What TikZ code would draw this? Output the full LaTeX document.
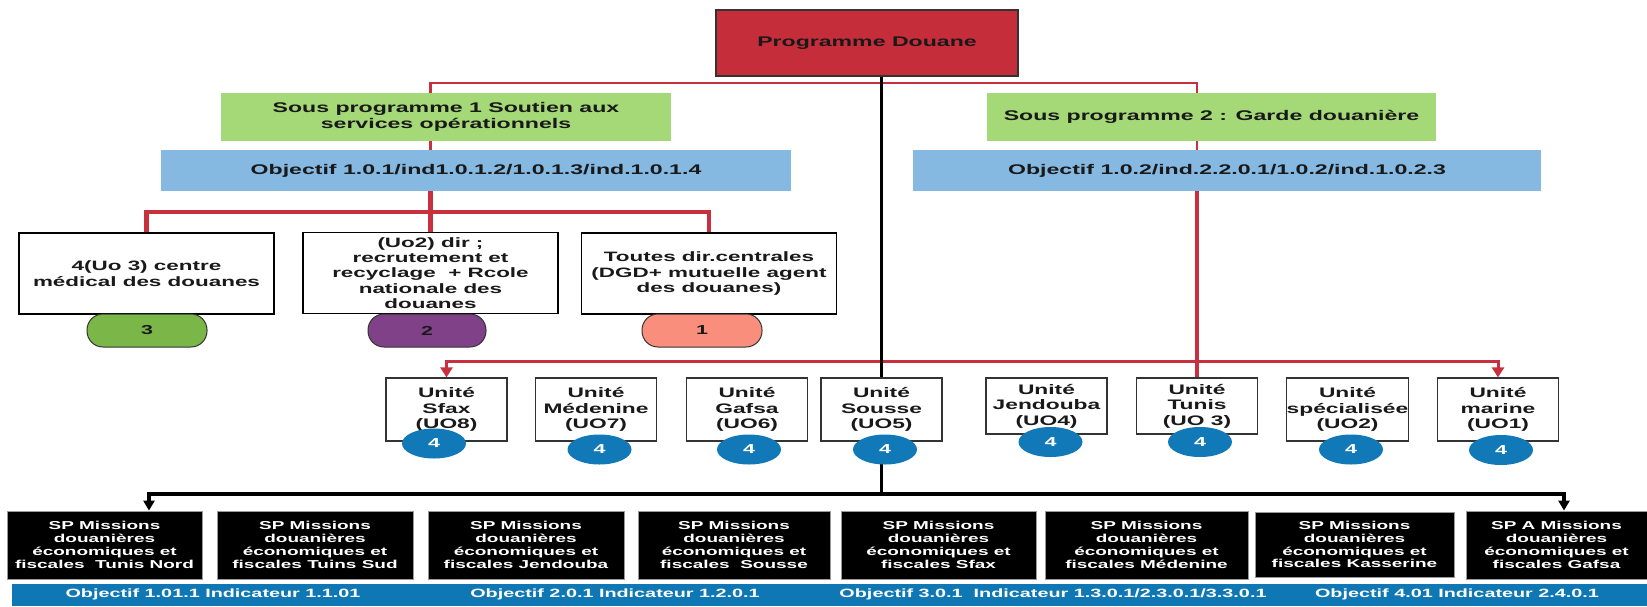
\documentclass[tikz,border=0pt]{standalone}
\usepackage{fontspec}
\setmainfont{Liberation Sans}[FakeStretch=1.65]
\usetikzlibrary{positioning, shapes.geometric, arrows.meta, backgrounds}

\definecolor{progred}{HTML}{C62D3A}
\definecolor{linered}{HTML}{C9303E}
\definecolor{spgreen}{HTML}{A5D977}
\definecolor{objblue}{HTML}{85B9E2}
\definecolor{ovgreen}{HTML}{7AB648}
\definecolor{ovpurple}{HTML}{814189}
\definecolor{ovsalmon}{HTML}{FA8E7C}
\definecolor{uoblue}{HTML}{1279B8}
\definecolor{barblue}{HTML}{0F78B4}

\begin{document}
\begin{tikzpicture}[x=1pt, y=-1pt,
        every node/.style = {align=center, inner sep=0pt, text=black!90},
        prog/.style = {shape=rectangle, draw=black!80, line width=1.5pt, fill=progred,
            minimum width=302pt, minimum height=66pt, font=\bfseries\fontsize{14}{15.3}\selectfont},
        spbox/.style = {shape=rectangle, fill=spgreen, minimum height=48pt,
            font=\bfseries\fontsize{14}{15.3}\selectfont},
        objbox/.style = {shape=rectangle, fill=objblue, minimum height=41pt,
            font=\bfseries\fontsize{14}{15.3}\selectfont},
        dirbox/.style = {shape=rectangle, draw=black, line width=1.5pt, fill=white,
            minimum width=255pt, minimum height=81pt, font=\bfseries\fontsize{13.6}{15.3}\selectfont},
        oval/.style = {shape=rectangle, rounded corners=16pt, draw=black!80, line width=1pt,
            minimum width=120pt, minimum height=33pt, font=\bfseries\fontsize{13}{15}\selectfont},
        uobox/.style = {shape=rectangle, draw=black!80, line width=1.2pt, fill=white,
            minimum width=121pt, minimum height=63pt, font=\bfseries\fontsize{13.8}{15.5}\selectfont},
        uocircle/.style = {shape=ellipse, fill=uoblue, minimum width=64pt, minimum height=30pt,
            text=white, font=\bfseries\fontsize{13}{15}\selectfont},
        mission/.style = {shape=rectangle, draw=black!40, line width=0.8pt, fill=black, text=white,
            minimum height=68pt, font=\bfseries\fontsize{11.5}{12.8}\selectfont},
        bartext/.style = {text=white, font=\bfseries\fontsize{12}{14}\selectfont},
        redthin/.style = {draw=linered, line width=2.6pt},
        redthick/.style = {draw=linered, line width=4.5pt},
        redmid/.style = {draw=linered, line width=3pt},
        blackline/.style = {draw=black, line width=3.5pt}
    ]
    \useasboundingbox (0, 0) rectangle (1647, 606);

    % programme and sub-programmes
    \node [prog] (prog) at (867, 43) {Programme Douane};
    \node [spbox, minimum width=450pt] (sp1) at (446, 117) {Sous programme 1 Soutien aux\\services opérationnels};
    \node [objbox, minimum width=630pt] (obj1) at (476, 170.5) {Objectif 1.0.1/ind1.0.1.2/1.0.1.3/ind.1.0.1.4};
    \node [spbox, minimum width=449pt] (sp2) at (1211.5, 117) {Sous programme 2 : Garde douanière};
    \node [objbox, minimum width=628pt] (obj2) at (1227, 170.5) {Objectif 1.0.2/ind.2.2.0.1/1.0.2/ind.1.0.2.3};

    % directions of sub-programme 1
    \node [dirbox] (d1) at (146.5, 273.5) {4(Uo 3) centre\\médical des douanes};
    \node [dirbox] (d2) at (430.5, 273) {(Uo2) dir ;\\recrutement et\\recyclage~ + Rcole\\nationale des\\douanes};
    \node [dirbox] (d3) at (709, 273.5) {Toutes dir.centrales\\(DGD+ mutuelle agent\\des douanes)};
    \node [oval, fill=ovgreen] (o3) at (147, 330.5) {3};
    \node [oval, fill=ovpurple, minimum width=118pt] (o2) at (427, 330.5) {2};
    \node [oval, fill=ovsalmon] (o1) at (702, 330.5) {1};

    % units of sub-programme 2
    \node [uobox] (sfax) at (446.5, 409.5) {Unité\\Sfax\\(UO8)};
    \node [uobox] (medenine) at (596, 409.5) {Unité\\Médenine\\(UO7)};
    \node [uobox] (gafsa) at (747, 409.5) {Unité\\Gafsa\\(UO6)};
    \node [uobox] (sousse) at (881.5, 409.5) {Unité\\Sousse\\(UO5)};
    \node [uobox, minimum height=56pt] (jendouba) at (1046.5, 406) {Unité\\Jendouba\\(UO4)};
    \node [uobox, minimum height=56pt] (tunis) at (1197, 406) {Unité\\Tunis\\(UO 3)};
    \node [uobox] (specialisee) at (1347.5, 409.5) {Unité\\spécialisée\\(UO2)};
    \node [uobox] (marine) at (1498, 409.5) {Unité\\marine\\(UO1)};

    \node [uocircle] (sfax4) at (434, 443.5) {4};
    \node [uocircle] (medenine4) at (599.5, 449.5) {4};
    \node [uocircle] (gafsa4) at (749, 449.5) {4};
    \node [uocircle] (sousse4) at (885, 449.5) {4};
    \node [uocircle] (jendouba4) at (1050.5, 442) {4};
    \node [uocircle] (tunis4) at (1200, 442) {4};
    \node [uocircle] (specialisee4) at (1351, 449.5) {4};
    \node [uocircle] (marine4) at (1501, 450) {4};

    % SP missions
    \node [mission, minimum width=195pt] (tunisnord) at (104.5, 545) {SP Missions\\douanières\\économiques et\\fiscales~ Tunis Nord};
    \node [mission, minimum width=196pt] (tunissud) at (315, 545) {SP Missions\\douanières\\économiques et\\fiscales Tuins Sud};
    \node [mission, minimum width=196pt] (spjendouba) at (526, 545) {SP Missions\\douanières\\économiques et\\fiscales Jendouba};
    \node [mission, minimum width=192pt] (spsousse) at (734, 545) {SP Missions\\douanières\\économiques et\\fiscales~ Sousse};
    \node [mission, minimum width=195pt] (spsfax) at (938.5, 545) {SP Missions\\douanières\\économiques et\\fiscales Sfax};
    \node [mission, minimum width=203pt] (spmedenine) at (1146.5, 545) {SP Missions\\douanières\\économiques et\\fiscales Médenine};
    \node [mission, minimum width=199pt, minimum height=65pt] (spkasserine) at (1354.5, 544.5) {SP Missions\\douanières\\économiques et\\fiscales Kasserine};
    \node [mission, minimum width=181pt] (spgafsa) at (1556.5, 545) {SP A Missions\\douanières\\économiques et\\fiscales Gafsa};

    % objectives bar
    \node [shape=rectangle, fill=barblue, minimum width=1635pt, minimum height=22pt] (bar) at (829.5, 595) {};
    \node [bartext] (objA) at (213, 594) {Objectif 1.01.1 Indicateur 1.1.01};
    \node [bartext] (objB) at (615, 594) {Objectif 2.0.1 Indicateur 1.2.0.1};
    \node [bartext] (objC) at (1053, 594) {Objectif 3.0.1~ Indicateur 1.3.0.1/2.3.0.1/3.3.0.1};
    \node [bartext] (objD) at (1457, 594) {Objectif 4.01 Indicateur 2.4.0.1};

    \begin{scope}[on background layer]
        \coordinate (progbus) at (867, 83);
        \coordinate (dirbus) at (430.5, 212);
        \coordinate (uobus) at (1197, 361);
        \coordinate (missionbus) at (881.5, 494);

        \draw [redthin] (sp1.north -| d2) |- (progbus) -| (sp2.north -| tunis);
        \draw [redthin] (sp1.south -| d2) -- (obj1.north -| d2);
        \draw [redthin] (sp2.south -| tunis) -- (obj2.north -| tunis);
        \draw [redthick] (obj1.south -| d2) -- (d2.north);
        \draw [redthick] (d1.north) |- (dirbus) -| (d3.north);
        \draw [redthick] (obj2.south -| tunis) -- (tunis.north);
        \draw [redmid, -{Triangle[width=12pt, length=10pt]}] (uobus) -| (sfax.north);
        \draw [redmid, -{Triangle[width=12pt, length=10pt]}] (uobus) -| (marine.north);

        \draw [blackline] (prog.south -| sousse) -- (missionbus);
        \draw [blackline, -{Triangle[width=11pt, length=10pt]}] (missionbus) -| ([xshift=44.5pt]tunisnord.north);
        \draw [blackline, -{Triangle[width=11pt, length=10pt]}] (missionbus) -| ([xshift=7.5pt]spgafsa.north);
    \end{scope}
\end{tikzpicture}
\end{document}
